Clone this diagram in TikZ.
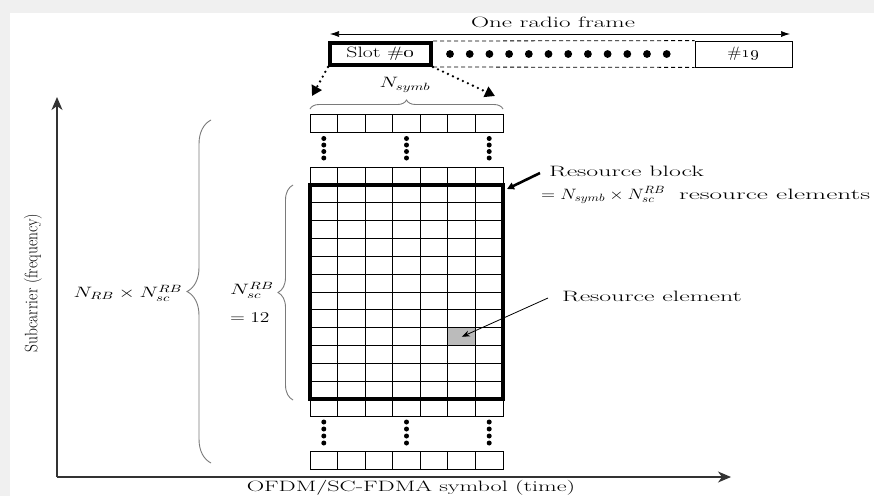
\RequirePackage{fix-cm}
\documentclass[tikz,border=0pt]{standalone}
\usetikzlibrary{arrows.meta, positioning, calc, decorations.pathreplacing}
\definecolor{pagebg}{HTML}{F0F0F0}
\definecolor{cellgray}{HTML}{BBBBBB}
\definecolor{bracegray}{HTML}{7A7A7A}
\definecolor{axisink}{HTML}{333333}
\newcommand{\osn}[1]{\oldstylenums{#1}}
\newcommand{\wide}[2]{\scalebox{#1}[1]{#2}}
\newcommand{\cellw}{27.57}
\newcommand{\cellh}{17.83}

\begin{document}
\begin{tikzpicture}[x=1pt, y=-1pt,
  lbl/.style={font=\fontsize{15}{18}\selectfont, inner sep=0pt},
  slotbox/.style={draw, line width=4pt, minimum width=101pt, minimum height=22pt, inner sep=0pt},
  endbox/.style={draw, line width=0.8pt, minimum width=97pt, minimum height=26pt, inner sep=0pt},
  gridline/.style={line width=0.8pt},
  rbbox/.style={draw, line width=4pt, minimum width=193pt, minimum height=214pt, inner sep=0pt},
  brc/.style={draw=bracegray, line width=0.9pt, decorate, decoration={brace, amplitude=#1}},
  dotarrow/.style={line width=2.6pt, dash pattern=on 0pt off 5.5pt, line cap=round, -{Triangle[length=10pt, width=11pt]}},
  axis/.style={draw=axisink, line width=1.3pt, -{Stealth[length=13pt, width=11pt, inset=4pt]}},
]
% page
\fill[pagebg] (0,0) rectangle (874,496);
\fill[white] (10,13) rectangle (874,496);
\useasboundingbox (0,0) rectangle (874,496);

% radio frame
\node[slotbox, lbl] (slot0) at (380.5,54) {\wide{1.45}{Slot \#\osn{0}}};
\node[endbox, lbl] (slot19) at (743.5,54) {\wide{1.22}{\#\osn{19}}};
\draw[dash pattern=on 4pt off 3pt, line width=0.8pt] (slot0.north east) -- (slot19.north west);
\draw[dash pattern=on 4pt off 3pt, line width=0.8pt] (slot0.south east) -- (slot19.south west);
\foreach \k in {0,...,11}
  \fill (450+\k*19.7,54) circle (3.9);
\coordinate (fl) at (330,34);
\coordinate (fr) at (790,34);
\draw[{Latex[length=9pt,width=6pt]}-{Latex[length=9pt,width=6pt]}, line width=0.7pt] (fl) -- (fr);
\node[lbl] (frame) at (553,22) {\wide{1.67}{One radio frame}};

% zoom into slot 0
\coordinate (zl) at (312,96);
\coordinate (zr) at (495,96);
\draw[dotarrow] (slot0.south west) -- (zl);
\draw[dotarrow] (slot0.south east) -- (zr);
\draw[brc=9pt] (310,109) -- (503,109);
\node[lbl] (nsymb) at (405,85) {\wide{1.4}{$N_{symb}$}};

% resource grid
\node[fill=cellgray, inner sep=0pt, minimum width=\cellw pt, minimum height=\cellh pt, anchor=north west] (re) at (310+5*\cellw,185+8*\cellh) {};
\foreach \i in {1,...,6}
  \draw[gridline] (310+\i*\cellw,185) -- (310+\i*\cellw,399);
\foreach \j in {1,...,11}
  \draw[gridline] (310,185+\j*\cellh) -- (503,185+\j*\cellh);
\foreach \y in {114.5,167.2,399,451.5}
  \foreach \i in {0,...,6}
    \draw[gridline] (310+\i*\cellw,\y) rectangle ++(\cellw,\cellh);
\node[rbbox] (rb) at (406.5,292) {};
\foreach \c in {0,3,6}
  \foreach \d in {0,...,3} {
    \fill (310+\c*\cellw+0.5*\cellw,138.5+\d*6.5) circle (2.5);
    \fill (310+\c*\cellw+0.5*\cellw,422+\d*7) circle (2.5);
  }

% braces on the left
\draw[brc=24pt] (211,463) -- (211,120);
\draw[brc=15pt] (293,400) -- (293,185);
\node[lbl] (nrb) at (128,293) {\wide{1.4}{$N_{RB}\times N_{sc}^{RB}$}};
\node[lbl, anchor=west] (nsc) at (230,290) {\wide{1.43}{$N_{sc}^{RB}$}};
\node[lbl, anchor=west] (n12) at (230,318) {\wide{1.3}{$=12$}};

% annotations
\node[lbl, anchor=west] (rbtxt) at (549,171) {\wide{1.72}{Resource block}};
\node[lbl, anchor=west] (rbeq) at (541,195) {\wide{1.23}{$=N_{symb}\times N_{sc}^{RB}$}\hspace{14pt}\wide{1.82}{resource elements}};
\draw[line width=2.6pt, -{Triangle[length=7pt,width=7pt]}] ($(rbtxt.west)+(-9,2)$) -- ($(rb.north east)+(2,6)$);
\node[lbl, anchor=west] (retxt) at (562,296) {\wide{1.72}{Resource element}};
\draw[line width=0.8pt, -{Stealth[length=8pt,width=6pt]}] ($(retxt.west)+(-14,2)$) -- (re.center);

% axes
\coordinate (origin) at (57,477);
\coordinate (ytip) at (57,97);
\coordinate (xtip) at (731,477);
\draw[axis] (origin) -- (ytip);
\draw[axis] (origin) -- (xtip);
\node[lbl, rotate=90] (ylab) at (33,283) {\scalebox{1.03}[1.2]{Subcarrier (frequency)}};
\node[lbl] (xlab) at (411,488) {\wide{1.61}{OFDM/SC-FDMA symbol (time)}};
\end{tikzpicture}
\end{document}
